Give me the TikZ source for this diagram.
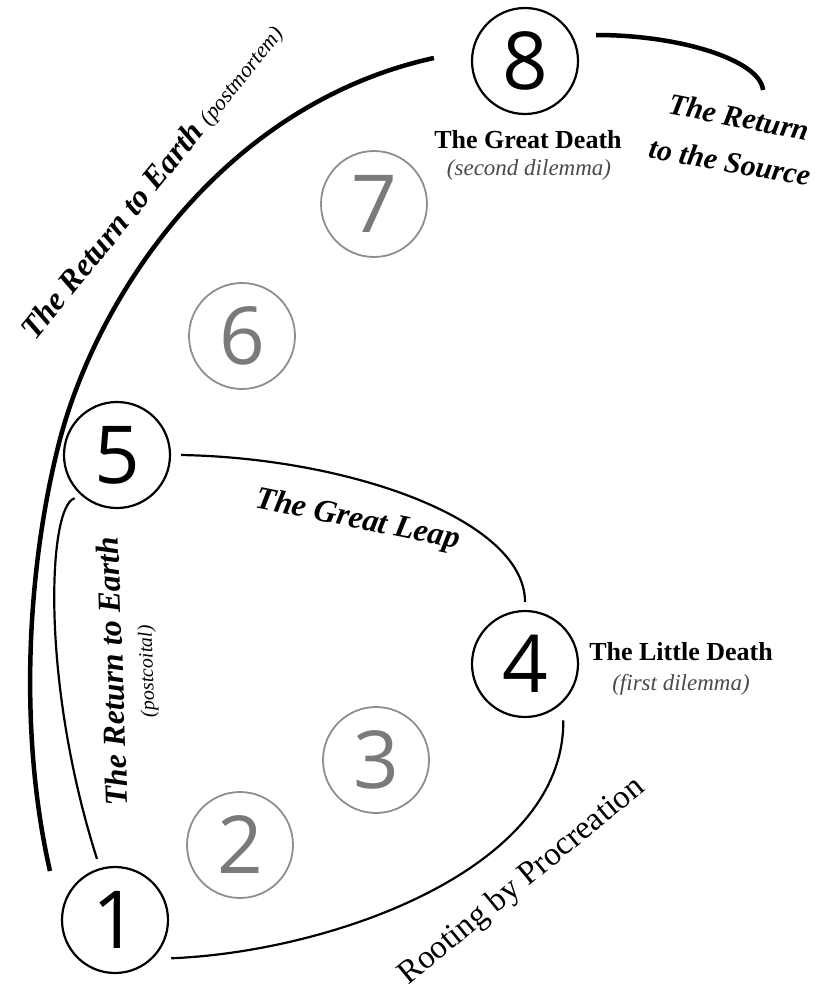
\documentclass[tikz,border=0pt]{standalone}
\usepackage{fontspec}
\setmainfont{Liberation Serif}
\newfontfamily\numfont{Open Sans}
\definecolor{ringgray}{HTML}{8E8E8E}
\definecolor{digitgray}{HTML}{7A7A7A}
\definecolor{subgray}{HTML}{4A4A4A}
\begin{document}
\begin{tikzpicture}[x=1pt,y=-1pt,
  stage/.style={circle, draw=black, line width=2.2pt, minimum size=106pt, inner sep=0pt,
                font=\fontsize{80}{80}\selectfont\numfont, text=black},
  faint/.style={stage, draw=ringgray, line width=1.8pt, text=digitgray},
  thinline/.style={line width=2.2pt, black},
  thickline/.style={line width=4.5pt, black},
  bigital/.style={font=\fontsize{32}{36}\selectfont\bfseries\itshape, anchor=base, inner sep=0pt},
  srcital/.style={font=\fontsize{30}{34}\selectfont\bfseries\itshape, anchor=base, inner sep=0pt},
  deathlbl/.style={font=\fontsize{26}{30}\selectfont\bfseries, anchor=base, inner sep=0pt},
  dilemma/.style={font=\fontsize{23}{26}\selectfont\itshape, text=subgray, anchor=base, inner sep=0pt}
]
\path[use as bounding box] (0,0) rectangle (820,993);

% stage circles
\node[stage] (n1) at (115,920) {1};
\node[faint] (n2) at (240,845) {2};
\node[faint] (n3) at (376,760) {3};
\node[stage] (n4) at (525,664) {4};
\node[stage] (n5) at (117,455) {5};
\node[faint] (n6) at (242,336) {6};
\node[faint] (n7) at (374,204) {7};
\node[stage] (n8) at (525,61) {8};

% free ends
\coordinate (outerEnd) at (50,871);
\coordinate (sourceEnd) at (763,90);

% connectors
\draw[thickline] (outerEnd) .. controls (20,740) and (25,580) .. (58,447)
   .. controls (94,301) and (220,105) .. ([xshift=-37pt,yshift=3pt]n8.west);
\draw[thickline] ([xshift=17pt,yshift=26pt]n8.east) .. controls (680,35) and (760,60) .. (sourceEnd);
\draw[thinline] ([xshift=10pt]n5.east) .. controls (350,458) and (525,520) .. ([yshift=8pt]n4.north);
\draw[thinline] ([xshift=18pt]n1.south east) .. controls (330,952) and (565,870) .. ([yshift=-18pt]n4.south east);
\draw[thinline] ([xshift=-4pt,yshift=-5pt]n5.south west) .. controls (48,505) and (40,680) .. ([xshift=-18pt,yshift=7pt]n1.north);

% labels
\node[bigital, rotate=51] (tOuter) at (160,188) {The Return to Earth {\fontsize{22}{24}\selectfont\mdseries(postmortem)}};
\node[bigital, rotate=92] (tInner) at (123,671) {The Return to Earth};
\node[font=\fontsize{20}{22}\selectfont\itshape, anchor=base, inner sep=0pt, rotate=92] (tPostc) at (153,671) {(postcoital)};
\node[bigital, rotate=-11.5] (tLeap) at (356,528) {The Great Leap};
\node[font=\fontsize{33}{36}\selectfont, anchor=base, inner sep=0pt, rotate=39.5] (tRoot) at (527,888) {Rooting by Procreation};
\node[srcital, rotate=-11] (tSrcA) at (737,127) {The Return};
\node[srcital, rotate=-10] (tSrcB) at (728,172) {to the Source};
\node[deathlbl] (tGD) at (528,148) {The Great Death};
\node[dilemma] (tGDs) at (529,175) {(second dilemma)};
\node[deathlbl] (tLD) at (681,660) {The Little Death};
\node[dilemma] (tLDs) at (681,690) {(first dilemma)};
\end{tikzpicture}
\end{document}
